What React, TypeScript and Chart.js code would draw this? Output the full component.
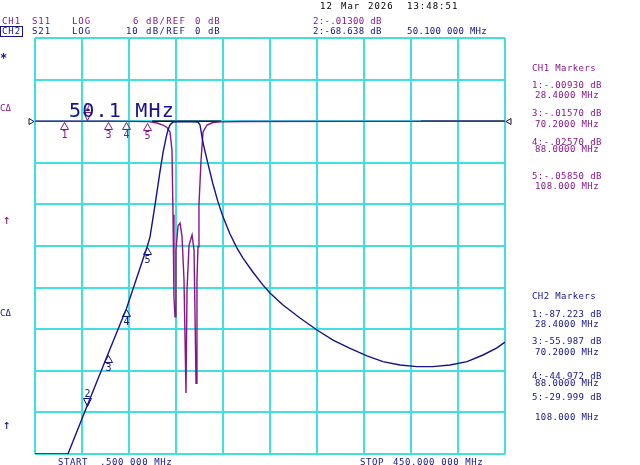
import React, { useEffect, useRef } from "react";
import { Chart, registerables } from "chart.js";
Chart.register(...registerables);

// ---- sweep / scale settings ----
const START_MHZ = 0.5;
const STOP_MHZ = 450;
const DIVISIONS = 10;
const CH1_MIN = -48; // 6 dB/div, REF 0 dB at 2nd division
const CH1_MAX = 12;
const CH2_MIN = -80; // 10 dB/div, REF 0 dB at 2nd division
const CH2_MAX = 20;
const CH2_STEP = 10;

// ---- CH2: S21 (dB) ----
const s21Freq = [0.5, 32, 50.1, 70.2, 88, 108, 110.5, 115.3, 120.0, 122.9, 125.8, 127.7, 129.6, 132.5, 145, 156.4, 158.3, 161.2, 166.0, 170.7, 175.5, 180.3, 187.0, 193.7, 199.4, 209.0, 218.6, 225.2, 237.7, 253.9, 270.2, 285.5, 301.8, 318.0, 333.3, 349.6, 365.8, 381.1, 397.4, 413.7, 429.0, 442.3, 450.0];
const s21Db = [-80, -80, -68.6, -56.0, -45.0, -30.0, -27.8, -20.1, -12.2, -7.6, -4.0, -2.1, -0.9, -0.2, -0.1, -0.2, -0.9, -5.2, -10.3, -15.1, -19.4, -23.0, -27.1, -30.5, -32.9, -36.3, -39.4, -41.3, -44.2, -47.3, -50.2, -52.6, -54.6, -56.4, -57.8, -58.6, -59.0, -59.0, -58.6, -57.8, -56.2, -54.5, -53.1];

// ---- CH1: S11 (dB) ----
const s11Freq = [0.5, 28.4, 50.1, 70.2, 88, 108, 110.5, 117.2, 122.9, 126.7, 129.6, 131.5, 132.5, 133.4, 134.4, 135.3, 137.3, 139.2, 141.1, 143.0, 144.9, 145.9, 147.8, 150.7, 152.6, 154.5, 155.4, 156.4, 157.3, 159.3, 161.2, 165.0, 170.7, 177.4, 200, 300, 450];
const s11Db = [-0.005, -0.0093, -0.013, -0.0157, -0.0257, -0.0585, -0.1, -0.26, -0.55, -0.9, -1.56, -4.15, -13.5, -25.4, -28.2, -18.6, -15.1, -14.7, -16.6, -22.9, -39.2, -24.3, -17.9, -16.4, -18.6, -37.8, -22.9, -18.1, -12.1, -5.6, -1.56, -0.55, -0.19, -0.1, -0.05, -0.03, -0.02];

// ---- dark overlay segments on the 0 dB line ----
const darkFreqA = [112.4, 178.4];
const darkDbA = [0, 0];
const darkFreqB = [369.7, 450];
const darkDbB = [0, 0];

// ---- markers ----
const markerIds = [1, 2, 3, 4, 5];
const markerFreq = [28.4, 50.1, 70.2, 88.0, 108.0];
const ch1MarkerDb = [-0.0093, -0.013, -0.0157, -0.0257, -0.0585];
const ch2MarkerDb = [-87.223, -68.638, -55.987, -44.972, -29.999];
const activeMarker = 2;

const ch1MarkerText = ["1:-.00930 dB", "3:-.01570 dB", "4:-.02570 dB", "5:-.05850 dB"];
const ch2MarkerText = ["1:-87.223 dB", "3:-55.987 dB", "4:-44.972 dB", "5:-29.999 dB"];
const markerFreqText = ["28.4000 MHz", "70.2000 MHz", "88.0000 MHz", "108.000 MHz"];

const PURPLE = "#85168a";
const NAVY = "#13138c";
const DARK = "#1c0c28";
const GRID = "rgb(64,224,224)";
const MONO = '"DejaVu Sans Mono", "Liberation Mono", monospace';

const xDivisions = Array.from({ length: DIVISIONS + 1 }, (_, i) => START_MHZ + ((STOP_MHZ - START_MHZ) * i) / DIVISIONS);

const markerPlugin = {
  id: "vnaMarkers",
  afterDatasetsDraw(chart: any) {
    const { ctx, scales } = chart;
    const x = scales.x;
    const y = scales.y;
    const y1 = scales.y1;
    ctx.save();
    // reference pointers
    const ry = Math.round(y.getPixelForValue(0)) + 0.5;
    ctx.strokeStyle = DARK;
    ctx.lineWidth = 1;
    const l = chart.chartArea.left;
    const r = chart.chartArea.right;
    ctx.beginPath();
    ctx.moveTo(l - 6, ry - 3);
    ctx.lineTo(l - 1, ry);
    ctx.lineTo(l - 6, ry + 3);
    ctx.closePath();
    ctx.stroke();
    ctx.beginPath();
    ctx.moveTo(r + 6, ry - 3);
    ctx.lineTo(r + 1, ry);
    ctx.lineTo(r + 6, ry + 3);
    ctx.closePath();
    ctx.stroke();

    const drawSet = (vals: number[], scale: any, color: string) => {
      ctx.strokeStyle = color;
      ctx.fillStyle = color;
      ctx.lineWidth = 1;
      ctx.font = `10px ${MONO}`;
      ctx.textAlign = "center";
      markerFreq.forEach((f, i) => {
        const v = vals[i];
        if (v < scale.min || v > scale.max) return;
        const px = Math.round(x.getPixelForValue(f)) + 0.5;
        const py = Math.round(scale.getPixelForValue(v)) + 0.5;
        const active = markerIds[i] === activeMarker;
        ctx.beginPath();
        if (active) {
          ctx.moveTo(px, py - 1);
          ctx.lineTo(px - 4, py - 9);
          ctx.lineTo(px + 4, py - 9);
        } else {
          ctx.moveTo(px, py + 1);
          ctx.lineTo(px - 4, py + 8);
          ctx.lineTo(px + 4, py + 8);
        }
        ctx.closePath();
        ctx.stroke();
        if (active) {
          ctx.textBaseline = "alphabetic";
          ctx.fillText(String(markerIds[i]), px, py - 11);
        } else {
          ctx.textBaseline = "top";
          ctx.fillText(String(markerIds[i]), px, py + 9);
        }
      });
    };
    drawSet(ch2MarkerDb, y, NAVY);
    drawSet(ch1MarkerDb, y1, PURPLE);
    ctx.restore();
  },
};

function Txt(props: { x: number; y: number; c: string; s?: number; ls?: number; children: any; style?: any }) {
  const s = props.s ?? 9;
  return (
    <div
      style={{
        position: "absolute",
        left: props.x,
        top: props.y - 0.117 * s,
        fontFamily: MONO,
        fontSize: s,
        lineHeight: `${s}px`,
        color: props.c,
        letterSpacing: props.ls ?? 0.4,
        whiteSpace: "pre",
        ...(props.style || {}),
      }}
    >
      {props.children}
    </div>
  );
}

const line = (fs: number[], ds: number[], axis: string, color: string, width: number) => ({
  data: fs.map((f, i) => ({ x: f, y: ds[i] })),
  yAxisID: axis,
  borderColor: color,
  borderWidth: width,
  pointRadius: 0,
  tension: 0,
});

export default function App() {
  const ref = useRef<HTMLCanvasElement | null>(null);
  useEffect(() => {
    if (!ref.current) return;
    const chart = new Chart(ref.current, {
      type: "line",
      data: {
        datasets: [
          { label: "S21", ...line(s21Freq, s21Db, "y", NAVY, 1.4) },
          { label: "S11", ...line(s11Freq, s11Db, "y1", PURPLE, 1.4) },
          { label: "refA", ...line(darkFreqA, darkDbA, "y", DARK, 1.6) },
          { label: "refB", ...line(darkFreqB, darkDbB, "y", DARK, 1.6) },
        ],
      },
      options: {
        responsive: false,
        animation: false,
        devicePixelRatio: 1,
        events: [],
        layout: { padding: { left: 35, top: 38, right: 135, bottom: 11 } },
        plugins: { legend: { display: false }, tooltip: { enabled: false } },
        scales: {
          x: {
            type: "linear",
            min: START_MHZ,
            max: STOP_MHZ,
            afterBuildTicks: (s: any) => {
              s.ticks = xDivisions.map((v) => ({ value: v }));
            },
            ticks: { display: false },
            grid: { color: GRID, lineWidth: 2, drawTicks: false },
            border: { display: false },
          },
          y: {
            type: "linear",
            min: CH2_MIN,
            max: CH2_MAX,
            ticks: { display: false, stepSize: CH2_STEP },
            grid: { color: GRID, lineWidth: 2, drawTicks: false },
            border: { display: false },
          },
          y1: {
            type: "linear",
            display: false,
            min: CH1_MIN,
            max: CH1_MAX,
          },
        },
      },
      plugins: [markerPlugin],
    } as any);
    return () => chart.destroy();
  }, []);

  return (
    <div style={{ position: "fixed", left: 0, top: 0, width: 640, height: 465, background: "#fff", overflow: "hidden" }}>
      <canvas ref={ref} width={640} height={465} style={{ position: "absolute", left: 0, top: 0 }} />
      {/* date */}
      <Txt x={320} y={3.5} c="#000" ls={1}>12</Txt>
      <Txt x={341} y={3.5} c="#000" ls={1}>Mar</Txt>
      <Txt x={368} y={3.5} c="#000" ls={1}>2026</Txt>
      <Txt x={407} y={3.5} c="#000" ls={1}>13:48:51</Txt>
      {/* header row 1 */}
      <Txt x={2} y={18.5} c={PURPLE} ls={0.9}>CH1</Txt>
      <Txt x={32} y={18.5} c={PURPLE} ls={0.9}>S11</Txt>
      <Txt x={72} y={18.5} c={PURPLE} ls={0.9}>LOG</Txt>
      <Txt x={133} y={18.5} c={PURPLE} ls={0.9}>6</Txt>
      <Txt x={146} y={18.5} c={PURPLE} ls={1.3}>dB/REF</Txt>
      <Txt x={195} y={18.5} c={PURPLE} ls={0.9}>0</Txt>
      <Txt x={208} y={18.5} c={PURPLE} ls={0.9}>dB</Txt>
      <Txt x={313} y={18.5} c={PURPLE} ls={0.3}>2:-.01300 dB</Txt>
      {/* header row 2 */}
      <div style={{ position: "absolute", left: 0, top: 26, width: 21, height: 9, border: `1px solid ${NAVY}` }} />
      <Txt x={2} y={28.5} c={NAVY} ls={0.9}>CH2</Txt>
      <Txt x={32} y={28.5} c={NAVY} ls={0.9}>S21</Txt>
      <Txt x={72} y={28.5} c={NAVY} ls={0.9}>LOG</Txt>
      <Txt x={126} y={28.5} c={NAVY} ls={0.9}>10</Txt>
      <Txt x={146} y={28.5} c={NAVY} ls={1.3}>dB/REF</Txt>
      <Txt x={195} y={28.5} c={NAVY} ls={0.9}>0</Txt>
      <Txt x={208} y={28.5} c={NAVY} ls={0.9}>dB</Txt>
      <Txt x={313} y={28.5} c={NAVY} ls={0.3}>2:-68.638 dB</Txt>
      <Txt x={407} y={28.5} c={NAVY} ls={0.3}>50.100 000 MHz</Txt>
      {/* left annotations */}
      <Txt x={0} y={53} c={NAVY} s={12} ls={0} style={{ fontWeight: "bold" }}>*</Txt>
      <Txt x={0} y={105} c={PURPLE} ls={0}>CΔ</Txt>
      <Txt x={3} y={215} c={PURPLE} s={13} ls={0}>↑</Txt>
      <Txt x={0} y={310.5} c={NAVY} ls={0}>CΔ</Txt>
      <Txt x={3} y={420} c={NAVY} s={13} ls={0}>↑</Txt>
      {/* big marker frequency */}
      <Txt x={69} y={102} c={NAVY} s={20} ls={1.2}>50.1 MHz</Txt>
      {/* CH1 marker list */}
      <Txt x={532} y={65} c={PURPLE}>CH1 Markers</Txt>
      <Txt x={532} y={82.3} c={PURPLE}>{ch1MarkerText[0]}</Txt>
      <Txt x={535} y={91.7} c={PURPLE}>{markerFreqText[0]}</Txt>
      <Txt x={532} y={110} c={PURPLE}>{ch1MarkerText[1]}</Txt>
      <Txt x={535} y={121} c={PURPLE}>{markerFreqText[1]}</Txt>
      <Txt x={532} y={138.8} c={PURPLE}>{ch1MarkerText[2]}</Txt>
      <Txt x={535} y={146.3} c={PURPLE}>{markerFreqText[2]}</Txt>
      <Txt x={532} y={172.7} c={PURPLE}>{ch1MarkerText[3]}</Txt>
      <Txt x={535} y={183.3} c={PURPLE}>{markerFreqText[3]}</Txt>
      {/* CH2 marker list */}
      <Txt x={532} y={292.7} c={NAVY}>CH2 Markers</Txt>
      <Txt x={532} y={310.7} c={NAVY}>{ch2MarkerText[0]}</Txt>
      <Txt x={535} y={320.7} c={NAVY}>{markerFreqText[0]}</Txt>
      <Txt x={532} y={338.3} c={NAVY}>{ch2MarkerText[1]}</Txt>
      <Txt x={535} y={349.3} c={NAVY}>{markerFreqText[1]}</Txt>
      <Txt x={532} y={372.8} c={NAVY}>{ch2MarkerText[2]}</Txt>
      <Txt x={535} y={380.2} c={NAVY}>{markerFreqText[2]}</Txt>
      <Txt x={532} y={394} c={NAVY}>{ch2MarkerText[3]}</Txt>
      <Txt x={535} y={414.3} c={NAVY}>{markerFreqText[3]}</Txt>
      {/* start / stop */}
      <Txt x={58} y={459.3} c={NAVY} ls={0.6}>START</Txt>
      <Txt x={100} y={459.3} c={NAVY} ls={0.6}>.500 000 MHz</Txt>
      <Txt x={360} y={459.3} c={NAVY} ls={0.6}>STOP</Txt>
      <Txt x={393} y={459.3} c={NAVY} ls={0.6}>450.000 000 MHz</Txt>
    </div>
  );
}
